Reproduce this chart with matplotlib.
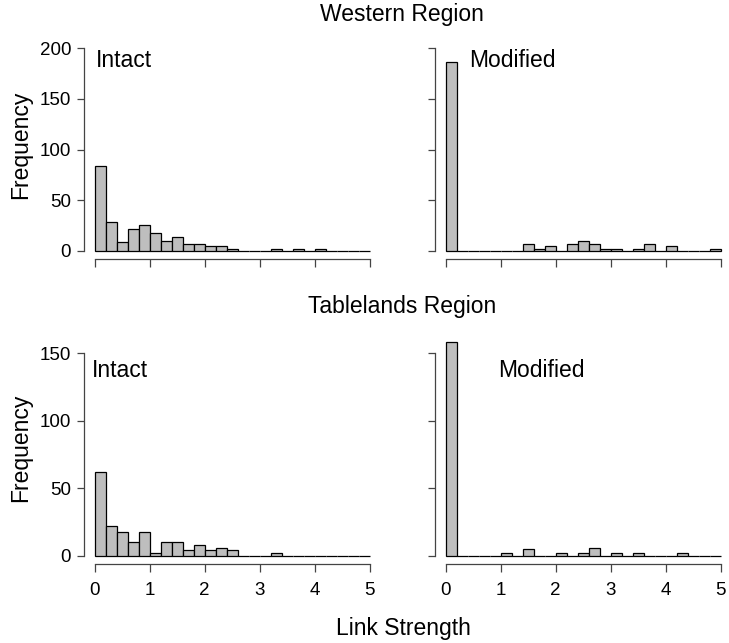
import numpy as np
import matplotlib
matplotlib.use("Agg")
import matplotlib.pyplot as plt

plt.rcParams['font.family'] = ['Liberation Sans', 'DejaVu Sans']

# histogram bins: 0 to 5 by 0.2
bin_edges = np.round(np.arange(0, 5.01, 0.2), 2)

# counts per bin
western_intact = [84, 28, 9, 22, 26, 18, 10, 14, 7, 7, 5, 5, 2, 0, 0, 0, 2, 0, 2, 0, 2, 0, 0, 0, 0]
western_modified = [186, 0, 0, 0, 0, 0, 0, 7, 2, 5, 0, 7, 10, 7, 2, 2, 0, 2, 7, 0, 5, 0, 0, 0, 2]
tableland_intact = [62, 22, 18, 10, 18, 2, 10, 10, 4, 8, 4, 6, 4, 0, 0, 0, 2, 0, 0, 0, 0, 0, 0, 0, 0]
tableland_modified = [158, 0, 0, 0, 0, 2, 0, 5, 0, 0, 2, 0, 2, 6, 0, 2, 0, 2, 0, 0, 0, 2, 0, 0, 0]

region_titles = ["Western Region", "Tablelands Region"]
panel_labels = ["Intact", "Modified"]
x_ticks = [0, 1, 2, 3, 4, 5]
y_ticks_top = [0, 50, 100, 150, 200]
y_ticks_bottom = [0, 50, 100, 150]

W, H = 729, 643
fig = plt.figure(figsize=(W / 100, H / 100), dpi=100)
FS = 16.5


def px_axes(x0, y0, x1, y1):
    # pixel box (top-left origin) -> figure axes
    return fig.add_axes([x0 / W, 1 - y1 / H, (x1 - x0) / W, (y1 - y0) / H])


def draw_hist(ax, counts, ytop, yticks, show_x, show_y):
    ax.bar(bin_edges[:-1], counts, width=0.2, align='edge',
           color='#BEBEBE', edgecolor='black', linewidth=0.9, clip_on=False)
    pad = 0.04 * ytop
    ax.set_xlim(-0.2, 5.2)
    ax.set_ylim(-pad, ytop + pad)
    for s in ['top', 'right']:
        ax.spines[s].set_visible(False)
    ax.spines['left'].set_bounds(0, yticks[-1])
    ax.spines['bottom'].set_bounds(0, 5)
    for s in ['left', 'bottom']:
        ax.spines[s].set_color('#444444')
        ax.spines[s].set_linewidth(0.9)
    ax.set_xticks(x_ticks)
    ax.set_yticks(yticks)
    ax.tick_params(axis='y', length=5, width=0.9, color='#444444', pad=4, labelsize=13.5)
    ax.tick_params(axis='x', length=6, width=0.9, color='#444444', pad=7, labelsize=13.5)
    if not show_x:
        ax.set_xticklabels([])
    if not show_y:
        ax.set_yticklabels([])


ax1 = px_axes(83.7, 40, 380.7, 259)
draw_hist(ax1, western_intact, 200, y_ticks_top, False, True)
ax1.text(0.02, 188, panel_labels[0], fontsize=FS, ha='left', va='center')

ax2 = px_axes(434.7, 40, 731.7, 259)
draw_hist(ax2, western_modified, 200, y_ticks_top, False, False)
ax2.text(0.43, 188, panel_labels[1], fontsize=FS, ha='left', va='center')

ax3 = px_axes(83.7, 345, 380.7, 564)
draw_hist(ax3, tableland_intact, 150, y_ticks_bottom, True, True)
ax3.text(-0.05, 137.5, panel_labels[0], fontsize=FS, ha='left', va='center')

ax4 = px_axes(434.7, 345, 731.7, 564)
draw_hist(ax4, tableland_modified, 150, y_ticks_bottom, True, False)
ax4.text(0.96, 137.5, panel_labels[1], fontsize=FS, ha='left', va='center')

fig.text(402 / W, 1 - 15 / H, region_titles[0], fontsize=FS, ha='center', va='center')
fig.text(402 / W, 1 - 307 / H, region_titles[1], fontsize=FS, ha='center', va='center')
fig.text(21 / W, 1 - 145 / H, "Frequency", fontsize=FS, rotation=90, ha='center', va='center')
fig.text(21 / W, 1 - 448 / H, "Frequency", fontsize=FS, rotation=90, ha='center', va='center')
fig.text(403 / W, 1 - 628 / H, "Link Strength", fontsize=FS, ha='center', va='center')

fig.savefig("out.png", dpi=100)
